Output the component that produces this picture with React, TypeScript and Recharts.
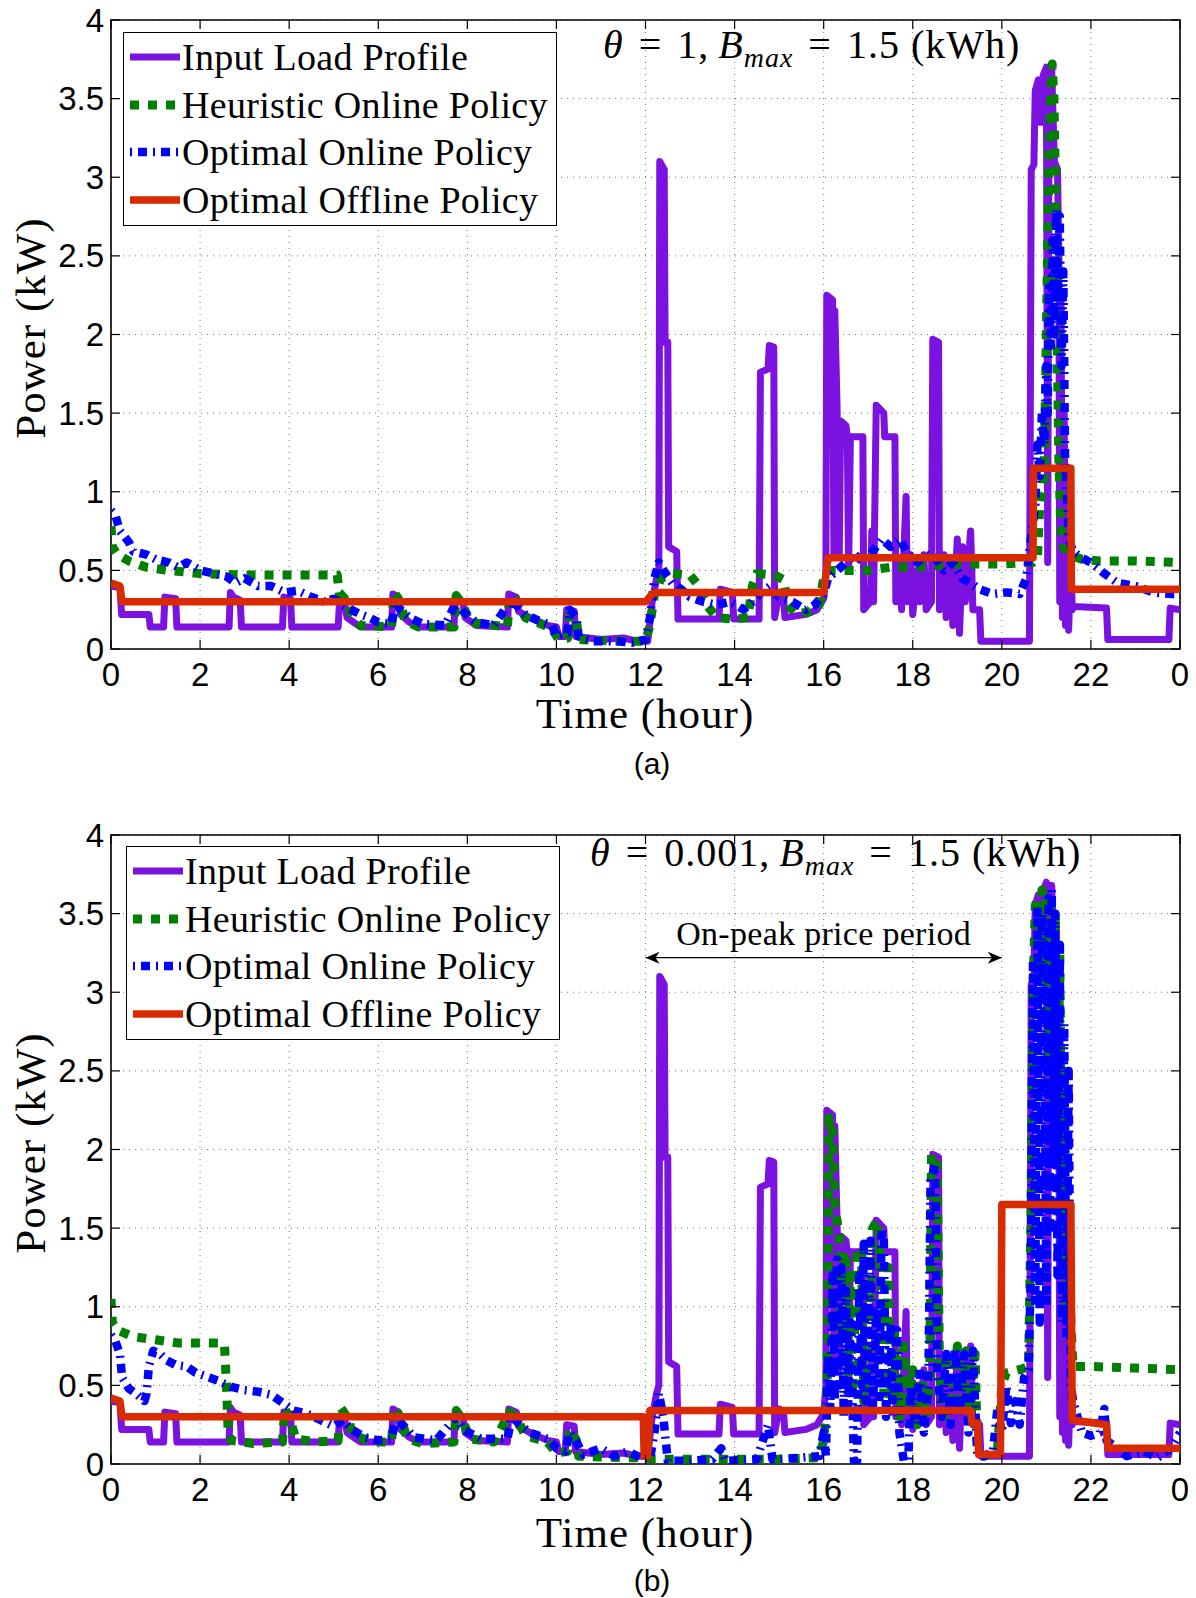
import React from 'react';
import { LineChart, Line, XAxis, YAxis, CartesianGrid, ReferenceArea, ReferenceLine } from 'recharts';

type Pt = [number, number];

// input load profile (kW), same in both panels
const loadProfile: Pt[] = [
  [0, 0.4], [0.2, 0.39], [0.24, 0.22], [0.85, 0.22], [0.88, 0.14], [1.18, 0.14], [1.21, 0.33], [1.45, 0.32],
  [1.48, 0.14], [2.65, 0.14], [2.68, 0.36], [2.75, 0.33], [2.9, 0.31], [2.93, 0.14], [3.85, 0.14], [3.88, 0.33],
  [4.03, 0.32], [4.06, 0.14], [5.1, 0.14], [5.13, 0.3], [5.25, 0.28], [5.3, 0.2], [5.45, 0.17], [5.6, 0.14],
  [6.3, 0.14], [6.33, 0.35], [6.45, 0.33], [6.5, 0.22], [6.7, 0.17], [6.9, 0.14], [7.7, 0.14], [7.73, 0.33],
  [7.9, 0.3], [7.95, 0.2], [8.2, 0.15], [8.9, 0.14], [8.93, 0.35], [9.1, 0.33], [9.15, 0.24], [9.4, 0.2],
  [9.8, 0.15], [10.0, 0.14], [10.05, 0.08], [10.2, 0.08], [10.23, 0.25], [10.4, 0.24], [10.43, 0.08],
  [11.0, 0.06], [11.5, 0.07], [11.8, 0.05], [12.05, 0.05], [12.15, 0.3], [12.25, 0.45], [12.3, 0.5],
  [12.32, 3.1], [12.42, 3.05], [12.44, 1.95], [12.5, 1.95], [12.52, 0.65], [12.7, 0.62], [12.73, 0.19],
  [13.65, 0.19], [13.68, 0.38], [13.95, 0.36], [13.98, 0.19], [14.55, 0.19], [14.58, 1.76], [14.75, 1.78],
  [14.78, 1.93], [14.88, 1.92], [14.9, 0.2], [15.0, 0.35], [15.1, 0.33], [15.13, 0.2], [15.6, 0.22],
  [15.85, 0.25], [16.0, 0.32], [16.05, 0.5], [16.07, 2.25], [16.2, 2.22], [16.23, 0.6], [16.25, 2.15],
  [16.3, 1.55], [16.35, 0.6], [16.38, 1.45], [16.5, 1.42], [16.53, 1.35], [16.56, 0.5], [16.6, 1.35],
  [16.88, 1.35], [16.9, 0.25], [17.05, 0.3], [17.08, 0.75], [17.12, 0.3], [17.18, 1.55], [17.35, 1.5],
  [17.37, 1.35], [17.6, 1.35], [17.62, 0.3], [17.7, 0.55], [17.75, 0.25], [17.85, 0.97], [17.88, 0.3],
  [17.95, 0.6], [18.0, 0.22], [18.1, 0.5], [18.15, 0.3], [18.25, 0.6], [18.3, 0.25], [18.42, 0.3],
  [18.45, 1.97], [18.58, 1.95], [18.6, 0.25], [18.7, 0.6], [18.75, 0.2], [18.85, 0.55], [18.9, 0.15],
  [19.0, 0.7], [19.05, 0.1], [19.12, 0.65], [19.18, 0.3], [19.3, 0.75], [19.35, 0.25], [19.5, 0.25],
  [19.53, 0.05], [20.62, 0.05], [20.66, 3.05], [20.72, 3.08], [20.75, 3.55], [20.82, 3.62], [20.85, 3.35],
  [20.9, 3.35], [20.93, 3.65], [21.0, 3.7], [21.03, 0.55], [21.06, 3.6], [21.12, 3.68], [21.18, 3.1],
  [21.25, 3.05], [21.28, 2.5], [21.3, 0.3], [21.33, 2.2], [21.36, 0.2], [21.4, 1.5], [21.43, 0.15],
  [21.47, 0.8], [21.5, 0.12], [21.55, 0.6], [21.58, 0.25], [21.6, 0.27], [22.35, 0.26], [22.38, 0.06],
  [23.75, 0.06], [23.78, 0.26], [24, 0.25],
];

// panel (a): theta = 1
const heuristicA: Pt[] = [
  [0, 0.78], [0.03, 0.65], [0.15, 0.6], [0.4, 0.56], [0.8, 0.52], [1.3, 0.5], [2.0, 0.48], [3.0, 0.47],
  [4.0, 0.47], [5.08, 0.47], [5.12, 0.36], [5.25, 0.32], [5.4, 0.22], [5.6, 0.15], [6.3, 0.14], [6.35, 0.36],
  [6.5, 0.3], [6.6, 0.18], [6.9, 0.14], [7.7, 0.14], [7.75, 0.34], [7.9, 0.28], [8.05, 0.17], [8.9, 0.14],
  [8.95, 0.34], [9.15, 0.3], [9.3, 0.2], [9.9, 0.13], [10.05, 0.06], [10.25, 0.07], [10.3, 0.22],
  [10.45, 0.18], [10.5, 0.06], [11.5, 0.05], [12.0, 0.05], [12.1, 0.15], [12.2, 0.35], [12.35, 0.45],
  [12.6, 0.48], [13.0, 0.47], [13.2, 0.4], [13.4, 0.27], [13.6, 0.2], [14.0, 0.19], [14.3, 0.2], [14.4, 0.4],
  [14.5, 0.48], [14.9, 0.47], [15.1, 0.44], [15.2, 0.28], [15.4, 0.22], [15.7, 0.24], [15.9, 0.28],
  [16.0, 0.45], [16.1, 0.5], [16.5, 0.5], [17.0, 0.5], [17.5, 0.52], [18.0, 0.52], [18.5, 0.53], [19.0, 0.54],
  [19.5, 0.54], [20.0, 0.54], [20.5, 0.55], [20.7, 0.55], [20.8, 0.58], [20.85, 0.9], [20.95, 1.1],
  [21.0, 2.0], [21.05, 3.0], [21.1, 3.55], [21.13, 3.72], [21.17, 3.5], [21.2, 3.0], [21.24, 2.0],
  [21.28, 1.2], [21.32, 0.8], [21.38, 0.65], [21.5, 0.6], [21.8, 0.57], [22.2, 0.56], [23.0, 0.56], [24, 0.55],
];

const onlineA: Pt[] = [
  [0, 0.88], [0.1, 0.85], [0.2, 0.75], [0.4, 0.68], [0.5, 0.62], [0.8, 0.6], [1.0, 0.57], [1.3, 0.55],
  [1.5, 0.52], [1.7, 0.55], [2.0, 0.5], [2.3, 0.48], [2.6, 0.46], [2.8, 0.42], [3.0, 0.45], [3.3, 0.4],
  [3.6, 0.4], [3.9, 0.36], [4.2, 0.37], [4.5, 0.33], [4.8, 0.3], [5.0, 0.32], [5.2, 0.28], [5.4, 0.25],
  [5.6, 0.22], [5.8, 0.2], [6.0, 0.17], [6.3, 0.16], [6.4, 0.3], [6.5, 0.25], [6.7, 0.2], [7.0, 0.16],
  [7.5, 0.15], [7.75, 0.3], [7.9, 0.24], [8.2, 0.17], [8.6, 0.15], [8.95, 0.3], [9.1, 0.28], [9.3, 0.22],
  [9.6, 0.18], [9.9, 0.15], [10.0, 0.08], [10.25, 0.1], [10.3, 0.25], [10.45, 0.2], [10.5, 0.08],
  [10.8, 0.05], [11.3, 0.05], [11.7, 0.04], [12.0, 0.06], [12.1, 0.2], [12.2, 0.45], [12.3, 0.55],
  [12.45, 0.48], [12.6, 0.42], [12.8, 0.38], [13.0, 0.33], [13.3, 0.3], [13.6, 0.28], [13.9, 0.3],
  [14.2, 0.25], [14.4, 0.3], [14.6, 0.36], [14.8, 0.4], [15.0, 0.33], [15.3, 0.3], [15.6, 0.25],
  [15.8, 0.28], [16.0, 0.35], [16.1, 0.45], [16.3, 0.5], [16.5, 0.55], [16.7, 0.6], [16.9, 0.55],
  [17.1, 0.62], [17.3, 0.7], [17.5, 0.65], [17.7, 0.7], [17.9, 0.6], [18.1, 0.55], [18.3, 0.6],
  [18.5, 0.58], [18.7, 0.5], [18.9, 0.55], [19.1, 0.45], [19.3, 0.42], [19.5, 0.38], [19.8, 0.35],
  [20.1, 0.36], [20.4, 0.35], [20.55, 0.45], [20.65, 0.7], [20.75, 0.9], [20.8, 1.3], [20.85, 1.1],
  [20.9, 1.5], [20.95, 1.3], [21.0, 1.8], [21.03, 1.5], [21.06, 2.3], [21.1, 1.9], [21.14, 2.6],
  [21.18, 2.0], [21.22, 2.8], [21.26, 2.2], [21.3, 2.75], [21.34, 1.8], [21.38, 2.4], [21.42, 1.2],
  [21.46, 1.0], [21.5, 0.7], [21.6, 0.62], [21.8, 0.58], [22.0, 0.55], [22.3, 0.48], [22.6, 0.42],
  [23.0, 0.4], [23.4, 0.36], [23.8, 0.35], [24, 0.35],
];

const offlineA: Pt[] = [
  [0, 0.42], [0.2, 0.4], [0.25, 0.3], [12.0, 0.3], [12.15, 0.35], [12.25, 0.36], [16.0, 0.36], [16.1, 0.58],
  [20.7, 0.58], [20.71, 1.15], [21.55, 1.15], [21.56, 0.38], [24, 0.38],
];

// panel (b): theta = 0.001
const heuristicB: Pt[] = [
  [0, 1.05], [0.03, 0.9], [0.15, 0.85], [0.5, 0.81], [1.0, 0.79], [1.5, 0.77], [2.0, 0.77], [2.5, 0.77],
  [2.55, 0.75], [2.6, 0.45], [2.63, 0.2], [2.7, 0.15], [3.2, 0.13], [3.85, 0.14], [3.9, 0.35], [4.0, 0.3],
  [4.15, 0.16], [4.6, 0.14], [5.1, 0.15], [5.15, 0.36], [5.3, 0.3], [5.45, 0.18], [5.9, 0.14], [6.3, 0.14],
  [6.35, 0.36], [6.5, 0.3], [6.65, 0.16], [7.0, 0.13], [7.7, 0.14], [7.75, 0.34], [7.9, 0.28], [8.05, 0.16],
  [8.6, 0.14], [8.95, 0.33], [9.1, 0.3], [9.3, 0.18], [9.8, 0.14], [10.0, 0.07], [10.25, 0.08], [10.3, 0.22],
  [10.45, 0.15], [10.5, 0.05], [11.5, 0.04], [12.0, 0.04], [12.2, 0.03], [13.0, 0.03], [14.0, 0.03],
  [15.0, 0.03], [15.9, 0.04], [16.0, 0.15], [16.05, 0.3], [16.08, 0.55], [16.12, 2.2], [16.2, 2.1],
  [16.25, 1.6], [16.3, 1.55], [16.35, 1.45], [16.4, 0.8], [16.45, 1.35], [16.5, 1.3], [16.55, 0.5],
  [16.6, 1.2], [16.65, 0.45], [16.75, 1.38], [16.85, 1.35], [16.9, 0.4], [17.0, 0.6], [17.1, 1.5],
  [17.2, 1.55], [17.3, 1.2], [17.35, 0.45], [17.45, 1.25], [17.5, 0.4], [17.6, 0.85], [17.7, 0.3],
  [17.8, 0.75], [17.9, 0.35], [18.0, 0.6], [18.1, 0.25], [18.2, 0.55], [18.3, 0.3], [18.38, 0.5],
  [18.42, 1.97], [18.55, 1.9], [18.6, 0.6], [18.7, 0.3], [18.8, 0.7], [18.9, 0.35], [19.0, 0.75],
  [19.1, 0.4], [19.2, 0.72], [19.3, 0.3], [19.4, 0.7], [19.45, 0.1], [19.6, 0.05], [19.9, 0.08],
  [20.0, 0.5], [20.1, 0.58], [20.4, 0.6], [20.6, 0.62], [20.65, 1.5], [20.7, 3.0], [20.75, 3.55],
  [20.8, 3.6], [20.85, 3.2], [20.9, 3.65], [20.95, 2.8], [21.0, 3.6], [21.05, 2.5], [21.1, 3.55],
  [21.15, 2.2], [21.2, 3.5], [21.25, 1.8], [21.3, 3.3], [21.35, 1.5], [21.4, 2.5], [21.45, 1.0],
  [21.5, 1.6], [21.55, 0.9], [21.6, 0.62], [22.0, 0.62], [23.0, 0.61], [24, 0.6],
];

const onlineB: Pt[] = [
  [0, 0.82], [0.1, 0.78], [0.2, 0.7], [0.25, 0.55], [0.4, 0.48], [0.55, 0.45], [0.75, 0.4], [0.8, 0.45],
  [0.85, 0.62], [0.95, 0.72], [1.1, 0.7], [1.25, 0.66], [1.45, 0.63], [1.7, 0.62], [1.9, 0.58], [2.1, 0.56],
  [2.4, 0.53], [2.7, 0.49], [3.0, 0.47], [3.3, 0.46], [3.6, 0.44], [3.9, 0.38], [4.1, 0.34], [4.4, 0.32],
  [4.7, 0.28], [5.0, 0.24], [5.2, 0.28], [5.4, 0.22], [5.7, 0.17], [6.0, 0.15], [6.3, 0.16], [6.4, 0.3],
  [6.55, 0.25], [6.8, 0.17], [7.3, 0.15], [7.75, 0.3], [7.9, 0.22], [8.3, 0.16], [8.9, 0.16], [9.0, 0.3],
  [9.15, 0.26], [9.4, 0.2], [9.8, 0.16], [10.0, 0.1], [10.2, 0.08], [10.3, 0.2], [10.45, 0.14], [10.6, 0.06],
  [11.0, 0.1], [11.3, 0.05], [11.6, 0.08], [11.9, 0.04], [12.1, 0.03], [12.2, 0.2], [12.3, 0.45], [12.4, 0.3],
  [12.5, 0.02], [13.0, 0.02], [13.5, 0.03], [13.7, 0.1], [13.8, 0.02], [14.5, 0.03], [14.75, 0.25],
  [14.85, 0.03], [15.5, 0.04], [15.9, 0.05], [16.0, 0.2], [16.05, 0.05], [16.1, 0.7], [16.15, 0.35],
  [16.2, 1.2], [16.25, 0.4], [16.3, 1.3], [16.35, 0.5], [16.4, 1.25], [16.45, 0.3], [16.5, 1.1],
  [16.55, 0.35], [16.6, 0.9], [16.68, 0.02], [16.75, 0.02], [16.8, 1.2], [16.85, 0.5], [16.9, 1.4],
  [16.95, 0.4], [17.05, 1.42], [17.1, 0.35], [17.2, 1.0], [17.25, 0.4], [17.3, 1.5], [17.35, 1.45],
  [17.4, 0.3], [17.5, 0.9], [17.55, 0.3], [17.65, 0.85], [17.7, 0.2], [17.8, 0.02], [17.9, 0.02],
  [17.95, 0.5], [18.05, 0.25], [18.15, 0.6], [18.25, 0.2], [18.35, 0.5], [18.4, 1.8], [18.5, 1.9],
  [18.55, 0.6], [18.65, 0.3], [18.75, 0.7], [18.85, 0.25], [18.95, 0.74], [19.05, 0.3], [19.15, 0.7],
  [19.25, 0.2], [19.35, 0.72], [19.45, 0.05], [19.6, 0.05], [19.8, 0.08], [19.9, 0.35], [20.0, 0.2],
  [20.1, 0.5], [20.2, 0.26], [20.3, 0.4], [20.4, 0.25], [20.5, 0.55], [20.6, 0.6], [20.65, 1.2],
  [20.7, 3.2], [20.75, 1.0], [20.8, 3.55], [20.85, 0.9], [20.9, 3.5], [20.95, 3.3], [21.0, 1.0],
  [21.05, 3.6], [21.08, 1.5], [21.12, 3.65], [21.16, 2.0], [21.2, 3.5], [21.25, 1.2], [21.3, 3.3],
  [21.35, 0.9], [21.4, 2.8], [21.45, 0.8], [21.5, 2.5], [21.55, 0.5], [21.6, 0.4], [21.7, 0.3],
  [21.8, 0.2], [22.0, 0.18], [22.2, 0.2], [22.3, 0.35], [22.35, 0.15], [22.6, 0.1], [22.8, 0.05],
  [23.2, 0.08], [23.5, 0.04], [23.8, 0.1], [24, 0.2],
];

const offlineB: Pt[] = [
  [0, 0.42], [0.2, 0.4], [0.25, 0.3], [11.95, 0.3], [11.97, 0.05], [12.05, 0.05], [12.1, 0.34], [19.3, 0.34],
  [19.33, 0.26], [19.45, 0.26], [19.48, 0.06], [19.97, 0.06], [20.0, 1.65], [21.55, 1.65], [21.58, 0.28],
  [22.35, 0.25], [22.38, 0.1], [24, 0.1],
];

const hourTicks = [0, 2, 4, 6, 8, 10, 12, 14, 16, 18, 20, 22, 24];
const powerTicks = [0, 0.5, 1, 1.5, 2, 2.5, 3, 3.5, 4];
const seriesNames = ['Input Load Profile', 'Heuristic Online Policy', 'Optimal Online Policy', 'Optimal Offline Policy'];
const onPeak = { start: 12, end: 20, level: 3.22, text: 'On-peak price period' };

const PURPLE = '#7B12E0';
const GREEN = '#008000';
const BLUE = '#0000FF';
const RED = '#DA2A00';

const SANS = "'Liberation Sans', Arial, sans-serif";
const SERIF = "'Liberation Serif', 'Times New Roman', serif";

const W = 1196;
const H = 720;
const PLOT_LEFT = 111;
const PLOT_RIGHT = 1180;
const PLOT_TOP = 20;
const PLOT_BOTTOM = 649;

const toPts = (arr: Pt[]) => arr.map(([t, v]) => ({ t, v }));

const styles = [
  { color: PURPLE, width: 7, dash: undefined as string | undefined },
  { color: GREEN, width: 9, dash: '9 9' },
  { color: BLUE, width: 8.5, dash: '2 6 9 6' },
  { color: RED, width: 7.5, dash: undefined as string | undefined },
];

const XTick = (props: any) => {
  const { x, payload } = props;
  const label = payload.value === 24 ? '0' : String(payload.value);
  return (
    <g>
      <line x1={x} x2={x} y1={PLOT_BOTTOM} y2={PLOT_BOTTOM - 9} stroke="#000" strokeWidth={1.2} />
      <line x1={x} x2={x} y1={PLOT_TOP} y2={PLOT_TOP + 9} stroke="#000" strokeWidth={1.2} />
      <text x={x} y={PLOT_BOTTOM + 25} textAnchor="middle" dominantBaseline="central" fontFamily={SANS} fontSize={33} fill="#000">
        {label}
      </text>
    </g>
  );
};

const YTick = (props: any) => {
  const { y, payload } = props;
  return (
    <g>
      <line x1={PLOT_LEFT} x2={PLOT_LEFT + 9} y1={y} y2={y} stroke="#000" strokeWidth={1.2} />
      <line x1={PLOT_RIGHT - 9} x2={PLOT_RIGHT} y1={y} y2={y} stroke="#000" strokeWidth={1.2} />
      <text x={PLOT_LEFT - 7} y={y} textAnchor="end" dominantBaseline="central" fontFamily={SANS} fontSize={33} fill="#000">
        {String(payload.value)}
      </text>
    </g>
  );
};

const ArrowShape = (props: any) => {
  const { x1, y1, x2, y2 } = props;
  const head = (x: number, dir: number) =>
    `M${x},${y1} L${x + dir * 14},${y1 - 6} L${x + dir * 10},${y1} L${x + dir * 14},${y1 + 6} Z`;
  return (
    <g>
      <line x1={x1} y1={y1} x2={x2} y2={y2} stroke="#000" strokeWidth={1.3} />
      <path d={head(x1, 1)} fill="#000" />
      <path d={head(x2, -1)} fill="#000" />
      <text
        x={(x1 + x2) / 2}
        y={y1 - 24}
        textAnchor="middle"
        dominantBaseline="central"
        fontFamily={SERIF}
        fontSize={34}
        letterSpacing={0.3}
        fill="#000"
      >
        {onPeak.text}
      </text>
    </g>
  );
};

type PanelProps = {
  top: number;
  heuristic: Pt[];
  online: Pt[];
  offline: Pt[];
  showArrow?: boolean;
};

const Panel = ({ top, heuristic, online, offline, showArrow }: PanelProps) => {
  const series = [loadProfile, heuristic, online, offline];
  return (
    <div style={{ position: 'absolute', left: 0, top }}>
      <LineChart width={W} height={H} margin={{ top: PLOT_TOP, right: W - PLOT_RIGHT, bottom: H - PLOT_BOTTOM - 40, left: PLOT_LEFT - 80 }}>
        <CartesianGrid stroke="#777" strokeWidth={1} strokeDasharray="1 5" />
        <XAxis
          type="number"
          dataKey="t"
          domain={[0, 24]}
          ticks={hourTicks}
          interval={0}
          height={40}
          axisLine={false}
          tickLine={false}
          tick={<XTick />}
          allowDataOverflow
        />
        <YAxis
          type="number"
          domain={[0, 4]}
          ticks={powerTicks}
          interval={0}
          width={80}
          axisLine={false}
          tickLine={false}
          tick={<YTick />}
          allowDataOverflow
        />
        {series.map((s, i) => (
          <Line
            key={seriesNames[i]}
            name={seriesNames[i]}
            data={toPts(s)}
            dataKey="v"
            type="linear"
            dot={false}
            activeDot={false}
            stroke={styles[i].color}
            strokeWidth={styles[i].width}
            strokeDasharray={styles[i].dash}
            strokeLinejoin="round"
            isAnimationActive={false}
          />
        ))}
        <ReferenceArea x1={0} x2={24} y1={0} y2={4} fill="none" stroke="#000" strokeWidth={1.6} ifOverflow="visible" />
        {showArrow && (
          <ReferenceLine
            segment={[{ x: onPeak.start, y: onPeak.level }, { x: onPeak.end, y: onPeak.level }]}
            shape={ArrowShape}
            ifOverflow="visible"
          />
        )}
      </LineChart>
    </div>
  );
};

const LegendBox = ({ left, top }: { left: number; top: number }) => (
  <div
    style={{
      position: 'absolute',
      left,
      top,
      width: 434,
      height: 194,
      border: '1.5px solid #000',
      background: '#fff',
      boxSizing: 'border-box',
    }}
  >
    {seriesNames.map((name, i) => (
      <div key={name} style={{ position: 'absolute', left: 0, top: 2 + i * 47.5, height: 44, display: 'flex', alignItems: 'center' }}>
        <svg width={56} height={20} style={{ marginLeft: 6 }}>
          <line
            x1={0}
            y1={10}
            x2={50}
            y2={10}
            stroke={styles[i].color}
            strokeWidth={styles[i].width}
            strokeDasharray={styles[i].dash}
          />
        </svg>
        <span style={{ fontFamily: SERIF, fontSize: 38, letterSpacing: 0.3, whiteSpace: 'nowrap', lineHeight: 1, marginLeft: -4 }}>
          {name}
        </span>
      </div>
    ))}
  </div>
);

const Eq = () => <span style={{ margin: '0 15px' }}>=</span>;

const Annotation = ({ left, top, theta }: { left: number; top: number; theta: string }) => (
  <div style={{ position: 'absolute', left, top, fontFamily: SERIF, fontSize: 40, letterSpacing: 1, whiteSpace: 'nowrap', lineHeight: 1 }}>
    <i>θ</i>
    <Eq />
    {theta},<span style={{ marginLeft: 9 }} />
    <i>B</i>
    <sub style={{ fontSize: 28, fontStyle: 'italic' }}>max</sub>
    <Eq />
    1.5 (kWh)
  </div>
);

const Centered = ({ x, y, children, style }: { x: number; y: number; children: React.ReactNode; style: React.CSSProperties }) => (
  <div
    style={{
      position: 'absolute',
      left: x,
      top: y,
      transform: 'translate(-50%, -50%)',
      whiteSpace: 'nowrap',
      lineHeight: 0.85,
      ...style,
    }}
  >
    {children}
  </div>
);

export default function App() {
  return (
    <div style={{ position: 'absolute', left: 0, top: 0, width: 1196, height: 1598, background: '#fff', overflow: 'hidden' }}>
      <Panel top={0} heuristic={heuristicA} online={onlineA} offline={offlineA} />
      <Panel top={815} heuristic={heuristicB} online={onlineB} offline={offlineB} showArrow />

      <LegendBox left={123} top={32} />
      <LegendBox left={126} top={846} />
      <Annotation left={603} top={25} theta="1" />
      <Annotation left={590} top={833} theta="0.001" />

      <Centered x={31} y={328} style={{ fontFamily: SERIF, fontSize: 43, letterSpacing: 1, transform: 'translate(-50%, -50%) rotate(-90deg)' }}>
        Power (kW)
      </Centered>
      <Centered x={31} y={1143} style={{ fontFamily: SERIF, fontSize: 43, letterSpacing: 1, transform: 'translate(-50%, -50%) rotate(-90deg)' }}>
        Power (kW)
      </Centered>
      <Centered x={645} y={714} style={{ fontFamily: SERIF, fontSize: 43, letterSpacing: 1 }}>
        Time (hour)
      </Centered>
      <Centered x={645} y={1533} style={{ fontFamily: SERIF, fontSize: 43, letterSpacing: 1 }}>
        Time (hour)
      </Centered>
      <Centered x={652} y={764} style={{ fontFamily: SANS, fontSize: 30 }}>
        (a)
      </Centered>
      <Centered x={652} y={1581} style={{ fontFamily: SANS, fontSize: 30 }}>
        (b)
      </Centered>
    </div>
  );
}
